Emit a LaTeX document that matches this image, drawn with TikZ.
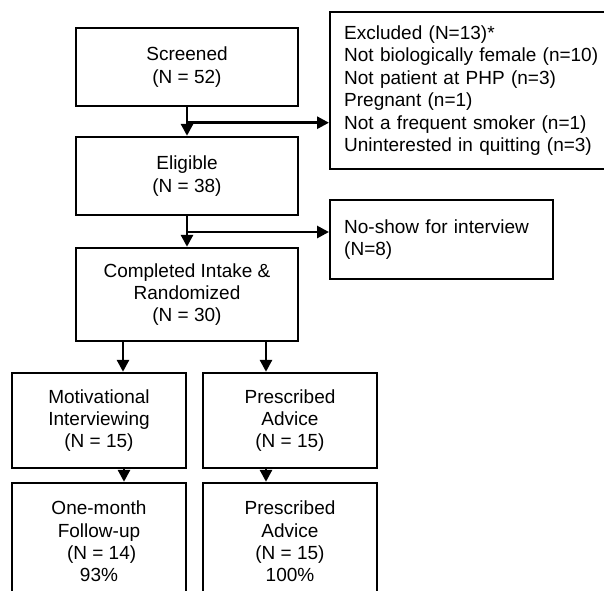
\documentclass[tikz,border=0pt]{standalone}
\usepackage{fontspec}
\setmainfont{Liberation Sans}
\usetikzlibrary{arrows.meta,positioning}

\begin{document}
\begin{tikzpicture}[x = 1pt, y = -1pt]
%\draw[very thin, color = gray](0, 0) grid (604, 590);
\tikzstyle{block} = [draw, rectangle, line width = 2.4pt, align = center,
  inner sep = 0pt, font = \fontsize{19}{22.4}\selectfont];
\tikzstyle{side} = [draw, rectangle, line width = 2.4pt, align = left, anchor = west,
  inner xsep = 14pt, inner ysep = 0pt, font = \fontsize{19}{22.4}\selectfont];
\tikzstyle{line} = [draw, -{Triangle[length = 12pt, width = 12pt]}, line width = 2.8pt]
\useasboundingbox (0, 0) rectangle (604, 590);
\clip (0, 0) rectangle (604, 590);
\node [block, minimum width = 222pt, minimum height = 78pt] at (187, 67) (screen) {Screened \\ (N = 52)};
\node [block, minimum width = 222pt, minimum height = 78pt] at (187, 176) (elig) {Eligible \\ (N = 38)};
\node [block, minimum width = 222pt, minimum height = 93pt] at (187, 294.5) (compl) {Completed Intake \& \\ Randomized \\ (N = 30)};
\node [side, text width = 262pt, minimum height = 157pt] at (329, 90.5) (excl) {Excluded (N=13)* \\ Not biologically female (n=10) \\ Not patient at PHP (n=3) \\ Pregnant (n=1) \\ Not a frequent smoker (n=1) \\ Uninterested in quitting (n=3)};
\node [side, text width = 195pt, minimum height = 79pt] at (329, 239.5) (noshow) {No-show for interview \\ (N=8)};
\node [block, minimum width = 174pt, minimum height = 95pt] at (99, 420.5) (mi) {Motivational \\ Interviewing \\ (N = 15)};
\node [block, minimum width = 174pt, minimum height = 95pt] at (290, 420.5) (pa) {Prescribed \\ Advice \\ (N = 15)};
\node [block, minimum width = 174pt, minimum height = 117pt] at (99, 541.5) (fu) {One-month \\ Follow-up \\ \ (N = 14) \\ 93\%};
\node [block, minimum width = 174pt, minimum height = 117pt] at (290, 541.5) (pafu) {Prescribed \\ Advice \\ (N = 15) \\ 100\%};
\coordinate (b1) at (187, 122.7);
\coordinate (b2) at (187, 232);
\path [line] (screen) -- (elig);
\path [line] (b1) -- (b1 -| excl.west);
\path [line] (elig) -- (compl);
\path [line] (b2) -- (b2 -| noshow.west);
\path [line] ([xshift = -64pt] compl.south) -- ([xshift = -64pt] compl.south |- mi.north);
\path [line] ([xshift = 79pt] compl.south) -- ([xshift = 79pt] compl.south |- pa.north);
\path [line] ([xshift = 25pt] mi.south) -- ([xshift = 25pt] mi.south |- fu.north);
\path [line] ([xshift = -24pt] pa.south) -- ([xshift = -24pt] pa.south |- pafu.north);
\end{tikzpicture}
\end{document}
